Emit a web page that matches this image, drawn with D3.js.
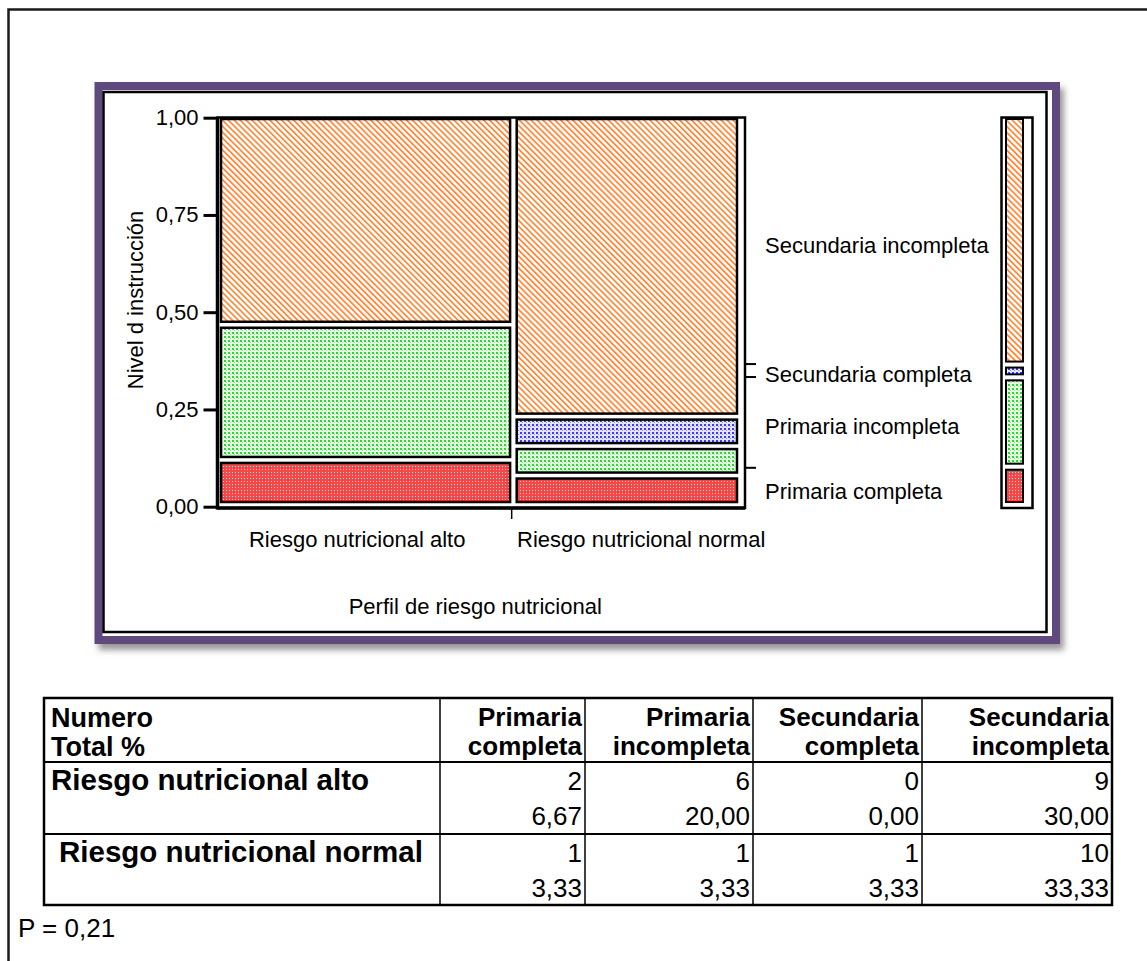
<!DOCTYPE html>
<html>
<head>
<meta charset="utf-8">
<script src="https://cdn.jsdelivr.net/npm/d3@7"></script>
<style>
  html, body { margin: 0; padding: 0; background: #fff; }
  svg { display: block; }
  text { font-family: "Liberation Sans", Arial, sans-serif; fill: #000; }
</style>
</head>
<body>
<svg id="chart" width="1147" height="961"></svg>
<script>
// ---------------- DATA ----------------
const groups = ["Riesgo nutricional alto", "Riesgo nutricional normal"];
const levels = ["Primaria completa", "Primaria incompleta", "Secundaria completa", "Secundaria incompleta"];
const countsAlto = [2, 6, 0, 9];
const countsNormal = [1, 1, 1, 10];
const yTicks = [0, 0.25, 0.5, 0.75, 1];
const yTitle = "Nivel d instrucción";
const xTitle = "Perfil de riesgo nutricional";
const tableHeaderLeft = ["Numero", "Total %"];
const tableColHeaders = [["Primaria", "completa"], ["Primaria", "incompleta"], ["Secundaria", "completa"], ["Secundaria", "incompleta"]];
const pValueText = "P = 0,21";

// ---------------- SETUP ----------------
const svg = d3.select("#chart");
const fmt = v => v.toFixed(2).replace(".", ",");
const counts = [countsAlto, countsNormal];
const grandTotal = d3.sum(counts.flat());
const FS = 22; // chart font size

const defs = svg.append("defs");
const f = defs.append("filter").attr("id", "shadow").attr("x", "-5%").attr("y", "-5%").attr("width", "115%").attr("height", "115%");
f.append("feDropShadow").attr("dx", 4).attr("dy", 6).attr("stdDeviation", 3).attr("flood-color", "#555").attr("flood-opacity", 0.6);

const levelPatterns = ["pRed", "pGreen", "pBlue", "pOrange"];
(function () {
  let p = defs.append("pattern").attr("id", "pRed").attr("patternUnits", "userSpaceOnUse").attr("width", 3).attr("height", 3);
  p.append("rect").attr("width", 3).attr("height", 3).attr("fill", "#f24848");
  p.append("rect").attr("x", 1).attr("y", 1).attr("width", 1).attr("height", 1).attr("fill", "#ffd0d0");
  p = defs.append("pattern").attr("id", "pGreen").attr("patternUnits", "userSpaceOnUse").attr("width", 4).attr("height", 4);
  p.append("rect").attr("width", 4).attr("height", 4).attr("fill", "#e8fce8");
  p.append("rect").attr("x", 0).attr("y", 0).attr("width", 2).attr("height", 2).attr("fill", "#2fd62f");
  p.append("rect").attr("x", 2).attr("y", 2).attr("width", 1).attr("height", 1).attr("fill", "#8aec8a");
  p = defs.append("pattern").attr("id", "pBlue").attr("patternUnits", "userSpaceOnUse").attr("width", 4).attr("height", 4);
  p.append("rect").attr("width", 4).attr("height", 4).attr("fill", "#e6e6ff");
  p.append("rect").attr("x", 0).attr("y", 0).attr("width", 2).attr("height", 2).attr("fill", "#3a3aff");
  p.append("rect").attr("x", 2).attr("y", 2).attr("width", 1).attr("height", 1).attr("fill", "#8a8aff");
  p = defs.append("pattern").attr("id", "pOrange").attr("patternUnits", "userSpaceOnUse").attr("width", 4.2).attr("height", 10)
    .attr("patternTransform", "rotate(-45)");
  p.append("rect").attr("width", 4.2).attr("height", 10).attr("fill", "#fff");
  p.append("rect").attr("width", 1.8).attr("height", 10).attr("fill", "#ff8a3d");
})();

svg.append("rect").attr("width", 1147).attr("height", 961).attr("fill", "#fff");

// outer page border
svg.append("rect").attr("x", 8.5).attr("y", 9.5).attr("width", 1160).attr("height", 980)
  .attr("fill", "none").attr("stroke", "#1a1a1a").attr("stroke-width", 2.5);

// purple frame with shadow
svg.append("rect").attr("x", 98.5).attr("y", 86).attr("width", 957.5).attr("height", 554)
  .attr("fill", "#fff").attr("stroke", "#604a7b").attr("stroke-width", 8).attr("filter", "url(#shadow)");
svg.append("rect").attr("x", 103.5).attr("y", 92).attr("width", 943).attr("height", 540)
  .attr("fill", "#fff").attr("stroke", "#000").attr("stroke-width", 2.5);

// ---------------- MOSAIC ----------------
const frame = { x0: 217.5, x1: 745, y0: 117.5, y1: 508 };
const yAxisScale = d3.scaleLinear().domain([0, 1]).range([506.7, 117.7]);
const yRect = d3.scaleLinear().domain([0, 1]).range([502, 119]);
const xRect = d3.scaleLinear().domain([0, 1]).range([221, 737]);
const xAxisScale = d3.scaleLinear().domain([0, 1]).range([217, 737]);
const vGap = 6, hHalfGap = 3.3;
const xLabelShift = [-10, 16];

svg.append("rect").attr("x", frame.x0).attr("y", frame.y0).attr("width", frame.x1 - frame.x0).attr("height", frame.y1 - frame.y0)
  .attr("fill", "none").attr("stroke", "#000").attr("stroke-width", 2.5);

const colTotals = counts.map(c => d3.sum(c));
const colCum = [0];
colTotals.forEach((t, i) => colCum.push(colCum[i] + t / grandTotal));

const gMosaic = svg.append("g");
counts.forEach((col, ci) => {
  const tot = colTotals[ci];
  let cum = 0;
  const xa = xRect(colCum[ci]) + (ci > 0 ? hHalfGap : 0);
  const xb = xRect(colCum[ci + 1]) - (ci < counts.length - 1 ? hHalfGap : 0);
  col.forEach((v, li) => {
    const lo = cum, hi = cum + v / tot;
    cum = hi;
    const isTop = li === col.length - 1;
    const ya = yRect(hi) + (isTop ? 0 : vGap);
    const yb = yRect(lo);
    if (yb - ya <= 0.5) return;
    gMosaic.append("rect").attr("x", xa).attr("y", ya).attr("width", xb - xa).attr("height", yb - ya)
      .attr("fill", `url(#${levelPatterns[li]})`).attr("stroke", "#000").attr("stroke-width", 2.5);
  });
});

// marginal bar
const margTotals = levels.map((l, i) => d3.sum(counts, c => c[i]));
const margCum = [0];
margTotals.forEach((t, i) => margCum.push(margCum[i] + t / grandTotal));
const marg = { x0: 1001.5, x1: 1032.5, rx0: 1006, rx1: 1023 };
svg.append("rect").attr("x", marg.x0).attr("y", frame.y0).attr("width", marg.x1 - marg.x0).attr("height", frame.y1 - frame.y0)
  .attr("fill", "none").attr("stroke", "#000").attr("stroke-width", 2.5);
margTotals.forEach((t, li) => {
  const isTop = li === levels.length - 1;
  const ya = yRect(margCum[li + 1]) + (isTop ? 0 : vGap);
  const yb = yRect(margCum[li]);
  svg.append("rect").attr("x", marg.rx0).attr("y", ya).attr("width", marg.rx1 - marg.rx0).attr("height", Math.max(yb - ya, 0))
    .attr("fill", `url(#${levelPatterns[li]})`).attr("stroke", "#000").attr("stroke-width", 2);
});

margCum.slice(1, levels.length).forEach(c => {
  svg.append("line").attr("x1", frame.x1).attr("x2", frame.x1 + 11).attr("y1", yAxisScale(c)).attr("y2", yAxisScale(c))
    .attr("stroke", "#000").attr("stroke-width", 2);
});
levels.forEach((l, li) => {
  const mid = (margCum[li] + margCum[li + 1]) / 2;
  svg.append("text").attr("x", 765).attr("y", yAxisScale(mid) + 4).attr("dy", "0.35em")
    .attr("font-size", FS).text(l);
});

// y axis
const yAxis = d3.axisLeft(yAxisScale).tickValues(yTicks).tickSize(14).tickPadding(5).tickFormat(d => fmt(d));
const gy = svg.append("g").attr("transform", `translate(${frame.x0},0)`).call(yAxis);
gy.select(".domain").remove();
gy.selectAll(".tick line").attr("stroke", "#000").attr("stroke-width", 3);
gy.selectAll(".tick text").attr("font-size", FS)
  .attr("font-family", "Liberation Sans, Arial, sans-serif").attr("fill", "#000");
svg.append("line").attr("x1", frame.x0).attr("x2", frame.x0).attr("y1", frame.y0).attr("y2", frame.y1 + 1.5)
  .attr("stroke", "#000").attr("stroke-width", 3.5);
svg.append("line").attr("x1", frame.x0).attr("x2", frame.x1).attr("y1", frame.y1).attr("y2", frame.y1)
  .attr("stroke", "#000").attr("stroke-width", 3.5);

// x axis
colCum.slice(1, -1).forEach(c => {
  svg.append("line").attr("x1", xAxisScale(c)).attr("x2", xAxisScale(c)).attr("y1", frame.y1).attr("y2", frame.y1 + 11)
    .attr("stroke", "#000").attr("stroke-width", 1.5);
});
groups.forEach((g, gi) => {
  const cx = (xRect(colCum[gi]) + xRect(colCum[gi + 1])) / 2 + xLabelShift[gi];
  svg.append("text").attr("x", cx).attr("y", 547).attr("text-anchor", "middle")
    .attr("font-size", FS).text(g);
});

svg.append("text").attr("x", (frame.x0 + frame.x1) / 2 - 6).attr("y", 614).attr("text-anchor", "middle")
  .attr("font-size", FS).text(xTitle);
svg.append("text").attr("transform", `translate(143,300) rotate(-90)`).attr("text-anchor", "middle")
  .attr("font-size", FS).text(yTitle);

// ---------------- TABLE ----------------
const colX = [44, 440, 585, 753, 922, 1112];
const rowY = [698, 762, 834, 905];
const tfs = 26, tfsLeft = 29.5, tfsHead = 27;
const tg = svg.append("g");
tg.append("rect").attr("x", colX[0]).attr("y", rowY[0]).attr("width", colX[5] - colX[0]).attr("height", rowY[3] - rowY[0])
  .attr("fill", "none").attr("stroke", "#000").attr("stroke-width", 2.5);
colX.slice(1, -1).forEach(x => tg.append("line").attr("x1", x).attr("x2", x).attr("y1", rowY[0]).attr("y2", rowY[3])
  .attr("stroke", "#000").attr("stroke-width", 1.5));
rowY.slice(1, -1).forEach(y => tg.append("line").attr("x1", colX[0]).attr("x2", colX[5]).attr("y1", y).attr("y2", y)
  .attr("stroke", "#000").attr("stroke-width", 2));

tableHeaderLeft.forEach((t, i) => tg.append("text").attr("x", colX[0] + 7).attr("y", 727 + i * 29)
  .attr("font-size", tfsHead).attr("font-weight", "bold").text(t));
tableColHeaders.forEach((lines, ci) => lines.forEach((t, i) =>
  tg.append("text").attr("x", colX[ci + 2] - 3).attr("y", 726 + i * 28.5).attr("text-anchor", "end")
    .attr("font-size", tfs).attr("font-weight", "bold").text(t)));

groups.forEach((g, gi) => {
  const top = rowY[gi + 1];
  tg.append("text").attr("x", gi === 0 ? colX[0] + 7 : colX[0] + 15).attr("y", top + 28)
    .attr("font-size", tfsLeft).attr("font-weight", "bold").text(g);
  counts[gi].forEach((v, ci) => {
    tg.append("text").attr("x", colX[ci + 2] - 3).attr("y", top + 28).attr("text-anchor", "end")
      .attr("font-size", tfs).text(v);
    tg.append("text").attr("x", colX[ci + 2] - 3).attr("y", top + 63).attr("text-anchor", "end")
      .attr("font-size", tfs).text(fmt(v / grandTotal * 100));
  });
});

svg.append("text").attr("x", 18).attr("y", 937).attr("font-size", tfs).text(pValueText);
</script>
</body>
</html>
